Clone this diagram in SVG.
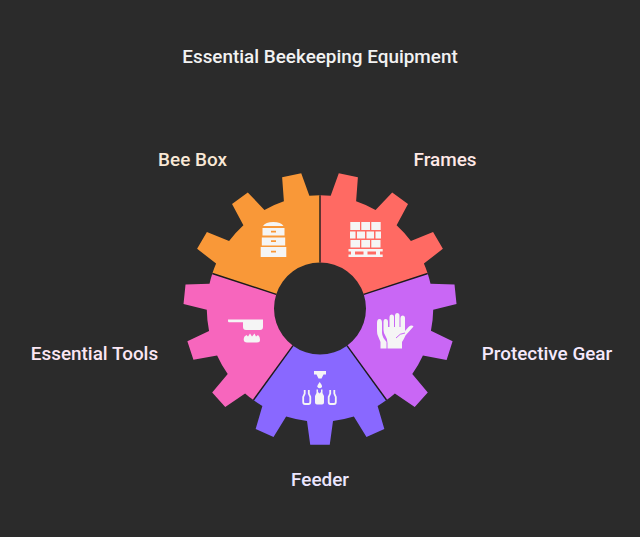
<svg xmlns="http://www.w3.org/2000/svg" width="640" height="537" viewBox="0 0 640 537">
<style>
text{font-family:Roboto,"Liberation Sans",sans-serif;font-size:18.9px;font-weight:500;text-anchor:middle}
.ic{fill:#f5f5f5}
</style>
<defs>
<path id="seg" d="M0 -113.2A113.2 113.2 0 0 0 -10.65 -112.7L-18.78 -135.3L-37.88 -131.2L-36.1 -107.3A113.2 113.2 0 0 0 -55.57 -98.6L-72.2 -116L-87.97 -104.5L-76.6 -83.3A113.2 113.2 0 0 0 -90.9 -67.5L-113.1 -76.6L-122.9 -59.7L-103.9 -45A113.2 113.2 0 0 0 -107.66 -34.98L-43.75 -14.2A46 46 0 0 1 0 -46Z"/>
</defs>
<rect width="640" height="537" fill="#2b2b2b"/>
<text x="320" y="63" fill="#f2f2f2">Essential Beekeeping Equipment</text>
<g id="bee-box">
<use href="#seg" transform="translate(320 308.500)" fill="#f99838"/>
<path class="ic" d="M263 226Q265.500 222 273.300 222Q281 222 283.500 226Z"/>
<path class="ic" d="M262.500 228H284.500V235.500H262.500ZM261.800 237.500H285.200V245.500H261.800ZM260.700 247H286.300V257H260.700Z"/>
<path fill="#f99838" d="M271 230.700H276V232.400H271ZM271 240.300H276V242H271ZM271 250.700H276V252.400H271Z"/>
<text x="192.500" y="166" fill="#f9e8d6">Bee Box</text>
</g>
<g id="frames">
<use href="#seg" transform="translate(320 308.500) rotate(72)" fill="#ff6a63"/>
<path class="ic" d="M350.300 222H360V230H350.300ZM361.300 222H370V230H361.300ZM371.300 222H380.700V230H371.300ZM350 231.500H355.500V238.500H350ZM357 231.500H365V238.500H357ZM366.500 231.500H374V238.500H366.500ZM375.500 231.500H381V238.500H375.500ZM350.500 240H360V247.500H350.500ZM361.300 240H370V247.500H361.300ZM371.300 240H380.500V247.500H371.300ZM348.500 249H382.700V251.500H348.500ZM348.500 254.500H382.700V257H348.500ZM351 251.500H355V254.500H351ZM363.500 251.500H367.500V254.500H363.500ZM376 251.500H380V254.500H376Z"/>
<text x="445" y="166" fill="#ffe8e6">Frames</text>
</g>
<g id="protective-gear">
<use href="#seg" transform="translate(320 308.500) rotate(144)" fill="#c967f5"/>
<path class="ic" d="M377 323Q377 319 379.500 319Q382 319 382 323V333Q382 335 383.500 338L386.500 342V348.500H380.500V342L378 336Q377 334 377 331Z"/>
<path class="ic" d="M383.500 322Q383.500 319 385.500 319Q388 319 388 322V327H389.500V317Q389.500 314.500 391.500 314.500Q394 314.500 394 317V327H395V315.500Q395 313 397 313Q399.500 313 399.500 315.500V327H400.500V318Q400.500 315.500 402.500 315.500Q405 315.500 405 318V331L408.500 327Q411.500 324.500 413.500 326.500Q409.500 331 405.500 335.500Q403.500 340 402 342V348.500H387.500V343Q387.500 339 385.500 336Q383.500 333 383.500 330Z"/>
<path d="M396 338Q400 333 405 333" fill="none" stroke="#c967f5" stroke-width="1"/>
<text x="547" y="360" fill="#f5e8fc">Protective Gear</text>
</g>
<g id="feeder">
<use href="#seg" transform="translate(320 308.500) rotate(216)" fill="#8968ff"/>
<path class="ic" d="M314 371H326V374.500H323.500L321.500 378.500H318.500L316.500 374.500H314Z"/>
<path class="ic" d="M319.700 382Q322 385 322 386.300Q322 388.300 319.700 388.300Q317.400 388.300 317.400 386.300Q317.400 385 319.700 382Z"/>
<path class="ic" d="M316.500 389.500V393L315 396V402.500Q315 404.500 317 404.500H322Q324 404.500 324 402.500V396L322.500 393V389.500H321V392L319.500 393.500L318 392V389.500Z"/>
<path d="M304.700 390V393.500L303.200 397V402Q303.200 404 305 404H308.500Q310.300 404 310.300 402V397L308.800 393.500V390M330.200 390V393.500L328.700 397V402Q328.700 404 330.500 404H334Q335.800 404 335.800 402V397L334.300 393.500V390" fill="none" stroke="#f5f5f5" stroke-width="1.800"/>
<text x="320" y="486" fill="#ebe6ff">Feeder</text>
</g>
<g id="essential-tools">
<use href="#seg" transform="translate(320 308.500) rotate(288)" fill="#f766bd"/>
<path class="ic" d="M228 319.500H263V327Q263 330 260 330H246Q243 330 243 327V322.300H229Q228 322.300 228 321Z"/>
<path class="ic" d="M244.500 336.500L246.500 335L248 336.500L250 333.500L252 336.500L254.500 333.500L256 336.500L258 335L259.500 337Q260 339 260 340Q260 342.500 257 342.500H247Q243.700 342.500 243.700 339.500Q243.700 338 244.500 336.500Z"/>
<text x="94.500" y="360" fill="#fbe6f3">Essential Tools</text>
</g>
<g id="connectors" stroke="#1c1c1c" stroke-width="1.400" fill="none">
<path d="M320 195.300V262.500"/>
<path d="M276.250 294.300L212.340 273.520"/>
<path d="M427.660 273.520L363.750 294.300"/>
<path d="M293 345.700L253.500 400"/>
<path d="M347 345.700L386.500 400"/>
</g>
</svg>
